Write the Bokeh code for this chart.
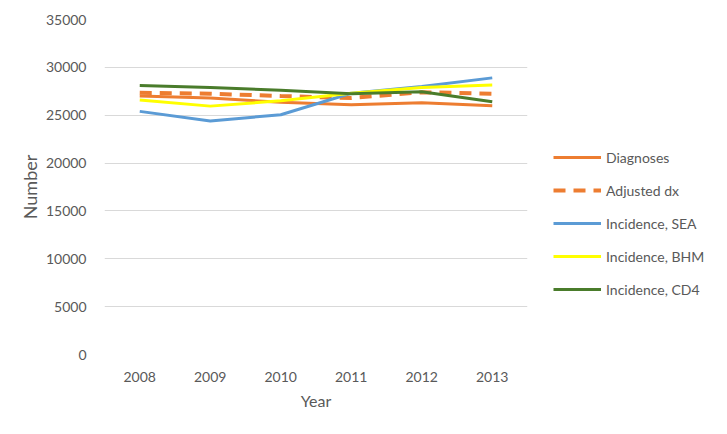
from bokeh.plotting import figure
from bokeh.models import FactorRange, Range1d, FixedTicker, Legend, LegendItem
from bokeh.embed import file_html
from bokeh.resources import INLINE

years = ["2008", "2009", "2010", "2011", "2012", "2013"]
diagnoses = [27000, 26800, 26350, 26100, 26300, 26000]
adjusted_dx = [27350, 27250, 27000, 26800, 27400, 27250]
incidence_sea = [25400, 24400, 25050, 27300, 28000, 28900]
incidence_bhm = [26600, 25950, 26500, 27300, 27900, 28150]
incidence_cd4 = [28100, 27900, 27600, 27250, 27450, 26400]
y_ticks = [0, 5000, 10000, 15000, 20000, 25000, 30000, 35000]

FONT = "Lato"
TXT = "#595959"

p = figure(x_range=FactorRange(*years, range_padding=0), y_range=Range1d(0, 35000),
           frame_width=423, frame_height=335, output_backend="svg", toolbar_location=None,
           min_border_left=104, min_border_right=0, min_border_top=19, min_border_bottom=72)
p.outline_line_color = None
p.xgrid.grid_line_color = None
p.ygrid.grid_line_color = "#D9D9D9"
p.ygrid.grid_line_width = 1
p.yaxis.ticker = FixedTicker(ticks=y_ticks)
for ax in (p.xaxis[0], p.yaxis[0]):
    ax.axis_line_color = None
    ax.major_tick_line_color = None
    ax.minor_tick_line_color = None
    ax.major_label_text_font = FONT
    ax.major_label_text_font_size = "14px"
    ax.major_label_text_color = TXT
    ax.axis_label_text_font = FONT
    ax.axis_label_text_color = TXT
    ax.axis_label_text_font_style = "normal"
p.xaxis.axis_label_text_font_size = "16px"
p.yaxis.axis_label_text_font_size = "18px"
p.xaxis.axis_label = "Year"
p.yaxis.axis_label = "Number"
p.yaxis.major_label_standoff = 12
p.xaxis.major_label_standoff = 11
p.xaxis.axis_label_standoff = 6
p.yaxis.axis_label_standoff = 2

r1 = p.line(years, diagnoses, line_color="#ED7D31", line_width=3)
r2 = p.line(years, adjusted_dx, line_color="#ED7D31", line_width=4, line_dash="12 8")
r3 = p.line(years, incidence_sea, line_color="#5B9BD5", line_width=3)
r4 = p.line(years, incidence_bhm, line_color="#FFFF00", line_width=3)
r5 = p.line(years, incidence_cd4, line_color="#4A7C2B", line_width=3)

legend = Legend(items=[
    LegendItem(label="Diagnoses", renderers=[r1]),
    LegendItem(label="Adjusted dx", renderers=[r2]),
    LegendItem(label="Incidence, SEA", renderers=[r3]),
    LegendItem(label="Incidence, BHM", renderers=[r4]),
    LegendItem(label="Incidence, CD4", renderers=[r5]),
], location=(26, 55))
legend.border_line_color = None
legend.background_fill_alpha = 0
legend.glyph_width = 48
legend.glyph_height = 20
legend.label_height = 20
legend.spacing = 13
legend.padding = 0
legend.margin = 0
legend.label_standoff = 5
legend.label_text_font = FONT
legend.label_text_font_size = "14px"
legend.label_text_color = TXT
p.add_layout(legend, "right")

open("out.html", "w").write(file_html(p, INLINE))
